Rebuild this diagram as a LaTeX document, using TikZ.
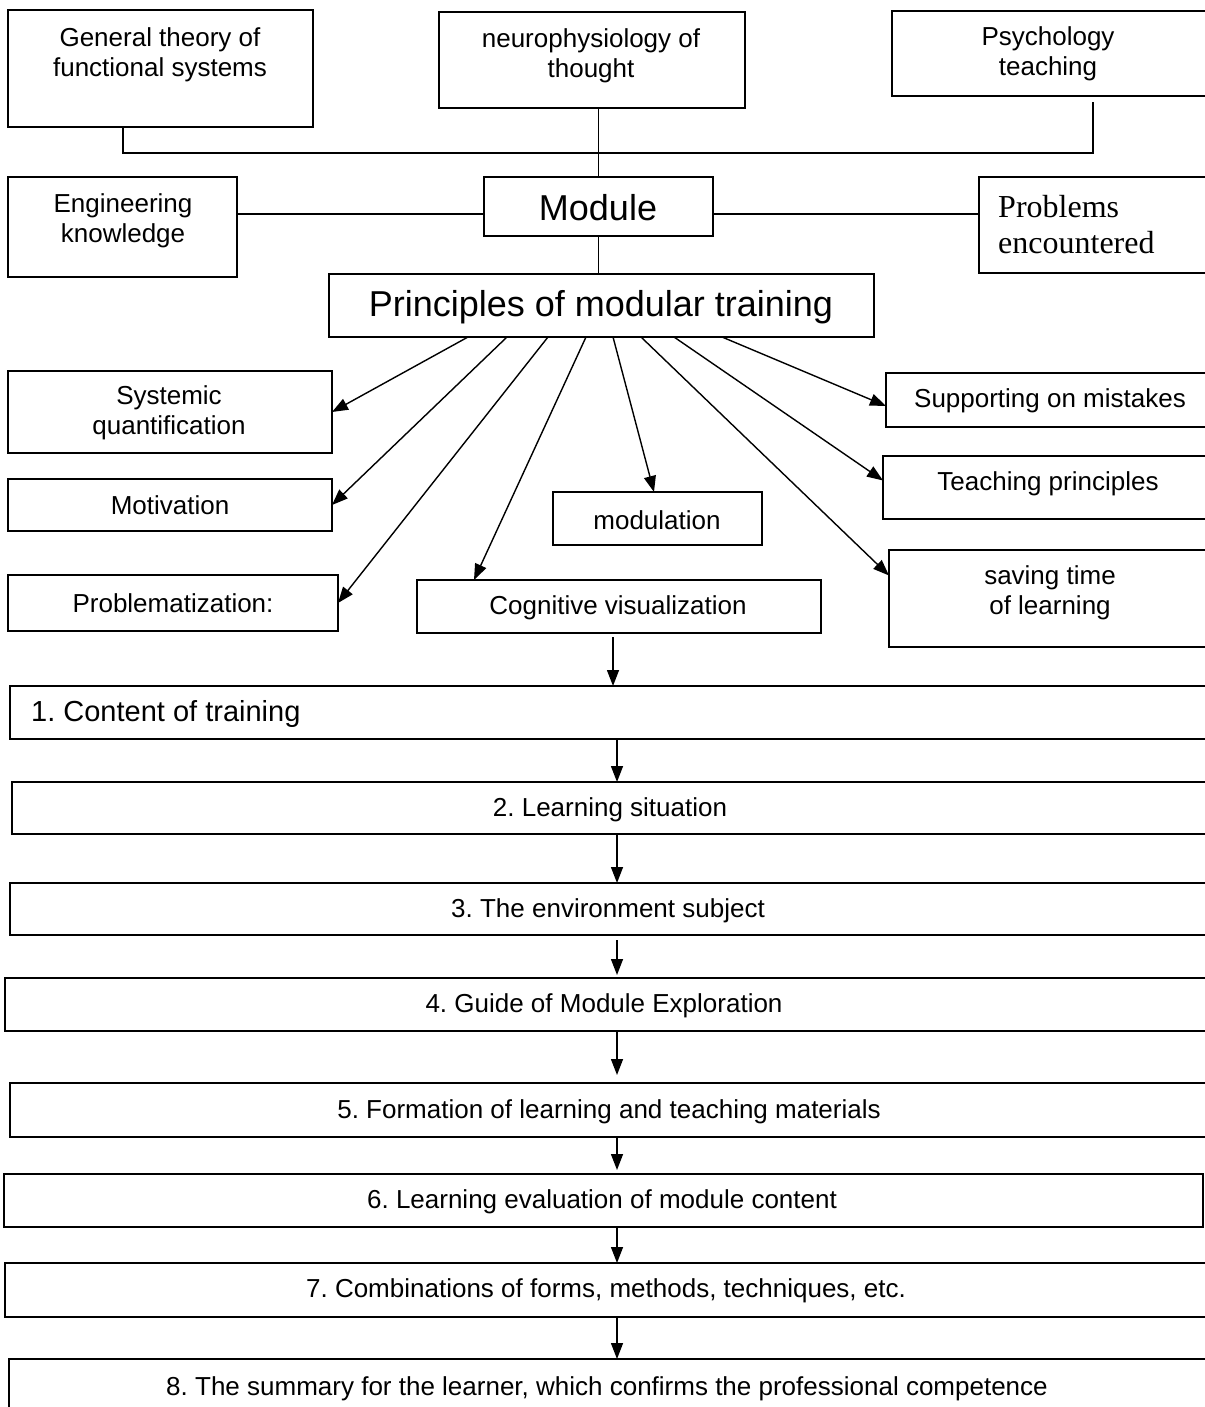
\documentclass[tikz,border=0pt]{standalone}
\usepackage{fontspec}
\setmainfont{Liberation Sans}
\newfontfamily\tnr{Liberation Serif}
\usetikzlibrary{arrows.meta}
\frenchspacing
\tikzset{
 box/.style={draw, line width=1.6pt, inner sep=0pt, outer sep=0pt, rectangle},
 conn/.style={line width=1.4pt},
 arr/.style={conn, -{Triangle[length=16pt,width=12pt]}},
 txt/.style={inner sep=0pt, align=center, font=\fontsize{26}{30}\selectfont},
 bigtxt/.style={inner sep=0pt, align=center, font=\fontsize{36}{40}\selectfont},
}
\newcommand{\bx}[5]{\node[box, anchor=north west, minimum width={#4pt-#2pt}, minimum height={#5pt-#3pt}] (#1) at (#2,#3) {};}
\begin{document}
\begin{tikzpicture}[x=1pt,y=-1pt]
\frenchspacing
\path[fill=white,use as bounding box] (0,0) rectangle (1204,1407);
% boxes
\bx{gt}{8}{10}{313}{127}
\bx{neuro}{439}{12}{745}{108}
\bx{psy}{892}{11}{1212}{96}
\bx{eng}{8}{177}{237}{277}
\bx{mod}{484}{177}{713}{236}
\bx{prob}{979}{177}{1212}{273}
\bx{prin}{329}{274}{874}{337}
\bx{sys}{8}{371}{332}{453}
\bx{mot}{8}{479}{332}{531}
\bx{probz}{8}{575}{338}{631}
\bx{cog}{417}{580}{821}{633}
\bx{modu}{553}{492}{762}{545}
\bx{sup}{886}{373}{1212}{427}
\bx{teach}{883}{456}{1212}{519}
\bx{save}{889}{550}{1212}{647}
\bx{s1}{10}{686}{1212}{739}
\bx{s2}{12}{782}{1212}{834}
\bx{s3}{10}{883}{1212}{935}
\bx{s4}{5}{978}{1212}{1031}
\bx{s5}{10}{1083}{1212}{1137}
\bx{s6}{4}{1174}{1203}{1227}
\bx{s7}{5}{1263}{1212}{1317}
\bx{s8}{9}{1359}{1212}{1420}
% texts
\node[txt] (gt-t) at (160,55) {General theory of\\functional systems};
\node[txt] (neuro-t) at (591,56) {neurophysiology of\\thought};
\node[txt] (psy-t) at (1048,54) {Psychology\\teaching};
\node[txt] (eng-t) at (123,221) {Engineering\\knowledge};
\node[bigtxt] (mod-t) at (598,208) {Module};
\node[inner sep=0pt, align=left, anchor=west, font=\tnr\fontsize{32}{36}\selectfont] (prob-t) at (998,225) {Problems\\encountered};
\node[bigtxt] (prin-t) at (601,307) {Principles of modular training};
\node[txt] (sys-t) at (169,413) {Systemic\\quantification};
\node[txt] (mot-t) at (170,505) {Motivation};
\node[txt] (probz-t) at (173,603) {Problematization:};
\node[txt] (cog-t) at (618,608) {Cognitive visualization};
\node[txt] (modu-t) at (657,520) {modulation};
\node[txt] (sup-t) at (1050,401) {Supporting on mistakes};
\node[txt] (teach-t) at (1048,484) {Teaching principles};
\node[txt] (save-t) at (1050,593) {saving time\\of learning};
\node[inner sep=0pt, anchor=west, font=\fontsize{29}{33}\selectfont] (s1-t) at (31,714) {1. Content of training};
\node[txt] (s2-t) at (610,810) {2. Learning situation};
\node[txt] (s3-t) at (608,911) {3. The environment subject};
\node[txt] (s4-t) at (604,1006) {4. Guide of Module Exploration};
\node[txt] (s5-t) at (609,1112) {5. Formation of learning and teaching materials};
\node[txt] (s6-t) at (602,1202) {6. Learning evaluation of module content};
\node[txt] (s7-t) at (606,1291) {7. Combinations of forms, methods, techniques, etc.};
\node[txt] (s8-t) at (607,1389) {8. The summary for the learner, which confirms the professional competence};
% top connectors
\coordinate (jl) at (123,153);
\coordinate (jr) at (1093,153);
\coordinate (pt) at (1093,102);
\coordinate (hy) at (0,214);
\draw[conn] (gt.south -| jl) -- (jl) -- (jr) -- (pt);
\draw[conn] (mod.north |- neuro.south) -- (mod.north);
\draw[conn] (eng.east |- hy) -- (mod.west |- hy);
\draw[conn] (mod.east |- hy) -- (prob.west |- hy);
\draw[conn] (mod.south) -- (mod.south |- prin.north);
% fan of arrows
\draw[arr] ([xshift=-133.5]prin.south) -- (sys.east);
\draw[arr] ([xshift=-94.5]prin.south) -- (mot.east);
\draw[arr] ([xshift=-53.5]prin.south) -- (probz.east);
\draw[arr] ([xshift=-15.5]prin.south) -- ([xshift=-145]cog.north);
\draw[arr] ([xshift=11.5]prin.south) -- ([xshift=-3.5]modu.north);
\draw[arr] ([xshift=39.5]prin.south) -- ([yshift=23]save.west);
\draw[arr] ([xshift=72.5]prin.south) -- ([yshift=7]teach.west);
\draw[arr] ([xshift=120.5]prin.south) -- ([yshift=-6]sup.west);
% step arrows
\coordinate (ax) at (617,0);
\draw[arr] ([xshift=-6,yshift=-4]cog.south) -- ([xshift=-6]cog.south |- s1.north);
\draw[arr] (s1.south -| ax) -- (s2.north -| ax);
\draw[arr] (s2.south -| ax) -- (s3.north -| ax);
\draw[arr] ([yshift=-5]s3.south -| ax) -- ([yshift=3]s4.north -| ax);
\draw[arr] (s4.south -| ax) -- ([yshift=8]s5.north -| ax);
\draw[arr] (s5.south -| ax) -- ([yshift=4]s6.north -| ax);
\draw[arr] (s6.south -| ax) -- (s7.north -| ax);
\draw[arr] (s7.south -| ax) -- (s8.north -| ax);
\end{tikzpicture}
\end{document}
